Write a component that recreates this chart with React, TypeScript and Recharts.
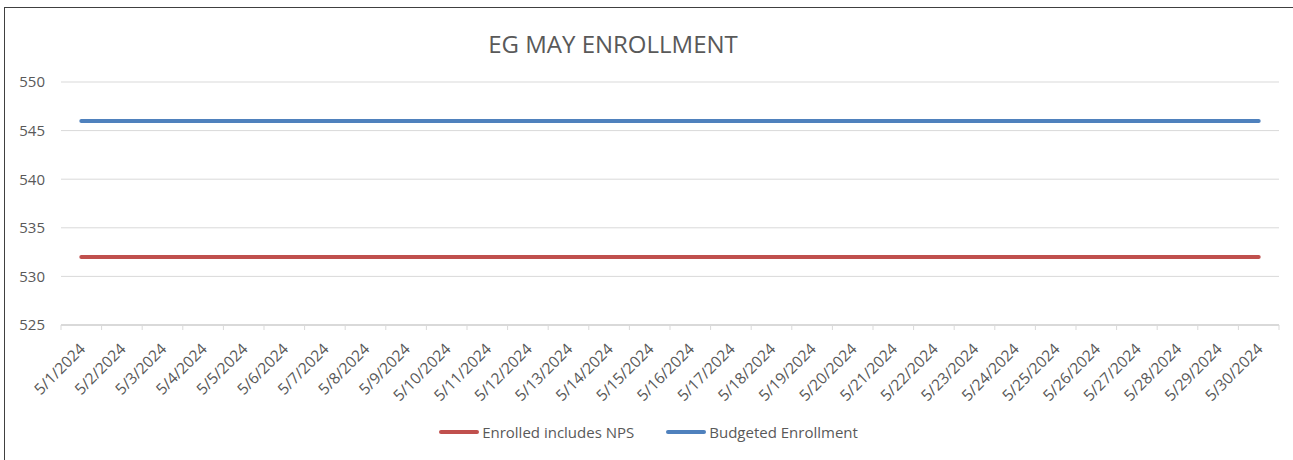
import { LineChart, Line, XAxis, YAxis, CartesianGrid, Legend } from 'recharts'

const dates = [
  '5/1/2024', '5/2/2024', '5/3/2024', '5/4/2024', '5/5/2024', '5/6/2024',
  '5/7/2024', '5/8/2024', '5/9/2024', '5/10/2024', '5/11/2024', '5/12/2024',
  '5/13/2024', '5/14/2024', '5/15/2024', '5/16/2024', '5/17/2024', '5/18/2024',
  '5/19/2024', '5/20/2024', '5/21/2024', '5/22/2024', '5/23/2024', '5/24/2024',
  '5/25/2024', '5/26/2024', '5/27/2024', '5/28/2024', '5/29/2024', '5/30/2024',
]

const enrolled = [
  532, 532, 532, 532, 532, 532, 532, 532, 532, 532,
  532, 532, 532, 532, 532, 532, 532, 532, 532, 532,
  532, 532, 532, 532, 532, 532, 532, 532, 532, 532,
]

const budgeted = [
  546, 546, 546, 546, 546, 546, 546, 546, 546, 546,
  546, 546, 546, 546, 546, 546, 546, 546, 546, 546,
  546, 546, 546, 546, 546, 546, 546, 546, 546, 546,
]

const yTicks = [525, 530, 535, 540, 545, 550]

const series = [
  { key: 'enrolled', name: 'Enrolled includes NPS', color: '#c0504d' },
  { key: 'budgeted', name: 'Budgeted Enrollment', color: '#4f81bd' },
]

const data = dates.map((d, i) => ({
  idx: i + 1,
  date: d,
  enrolled: enrolled[i],
  budgeted: budgeted[i],
}))

const W = 1293
const H = 460
const M = { top: 82, right: 14, left: 0, bottom: 5 }
const Y_W = 61
const halfBand = (W - M.left - M.right - Y_W) / dates.length / 2
const FONT = '"Open Sans", sans-serif'
const TXT = '#595959'

function DateTick(props: any) {
  const { x, y, payload, index } = props
  const ax = x + 5
  const ay = y + 25
  return (
    <g>
      <line x1={x - halfBand} y1={y} x2={x - halfBand} y2={y + 5} stroke="#d9d9d9" />
      {index === dates.length - 1 && (
        <line x1={x + halfBand} y1={y} x2={x + halfBand} y2={y + 5} stroke="#d9d9d9" />
      )}
      <text
        x={ax}
        y={ay}
        textAnchor="end"
        fill={TXT}
        fontSize={15.5}
        fontFamily={FONT}
        transform={`rotate(-45 ${ax} ${ay})`}
      >
        {dates[payload.value - 1]}
      </text>
    </g>
  )
}

function LegendBox() {
  return (
    <div style={{ display: 'flex', justifyContent: 'center', gap: 32, fontFamily: FONT, fontSize: 15, color: TXT, paddingLeft: 18, paddingTop: 2 }}>
      {series.map((s) => (
        <div key={s.key} style={{ display: 'flex', alignItems: 'center' }}>
          <span style={{ width: 40, height: 4, borderRadius: 2, background: s.color, marginRight: 3 }} />
          <span>{s.name}</span>
        </div>
      ))}
    </div>
  )
}

export default function App() {
  return (
    <div style={{ position: 'absolute', left: 0, top: 0, width: W, height: H, background: '#fff', overflow: 'hidden' }}>
      <div
        style={{
          position: 'absolute', left: 4, top: 7, width: W + 20, height: H + 20,
          border: '1.5px solid #404040', boxSizing: 'border-box',
        }}
      />
      <div
        style={{
          position: 'absolute', left: 0, width: 1226, top: 27, textAlign: 'center',
          fontFamily: FONT, fontSize: 24, color: TXT,
        }}
      >
        EG MAY ENROLLMENT
      </div>
      <LineChart width={W} height={H} data={data} margin={M} style={{ position: 'absolute', left: 0, top: 0 }}>
        <CartesianGrid vertical={false} stroke="#d9d9d9" />
        <XAxis
          dataKey="idx"
          type="number"
          domain={[0.5, 30.5]}
          ticks={data.map((d) => d.idx)}
          interval={0}
          height={95}
          tickSize={0}
          tickMargin={0}
          tickLine={false}
          axisLine={{ stroke: '#d9d9d9', strokeWidth: 2 }}
          tick={<DateTick />}
        />
        <YAxis
          domain={[525, 550]}
          ticks={yTicks}
          width={Y_W}
          axisLine={false}
          tickLine={false}
          tickMargin={10}
          tick={{ fill: TXT, fontSize: 15, fontFamily: FONT }}
        />
        {series.map((s) => (
          <Line
            key={s.key}
            dataKey={s.key}
            name={s.name}
            stroke={s.color}
            strokeWidth={4}
            strokeLinecap="round"
            dot={false}
            isAnimationActive={false}
          />
        ))}
        <Legend verticalAlign="bottom" height={35} content={<LegendBox />} />
      </LineChart>
    </div>
  )
}
